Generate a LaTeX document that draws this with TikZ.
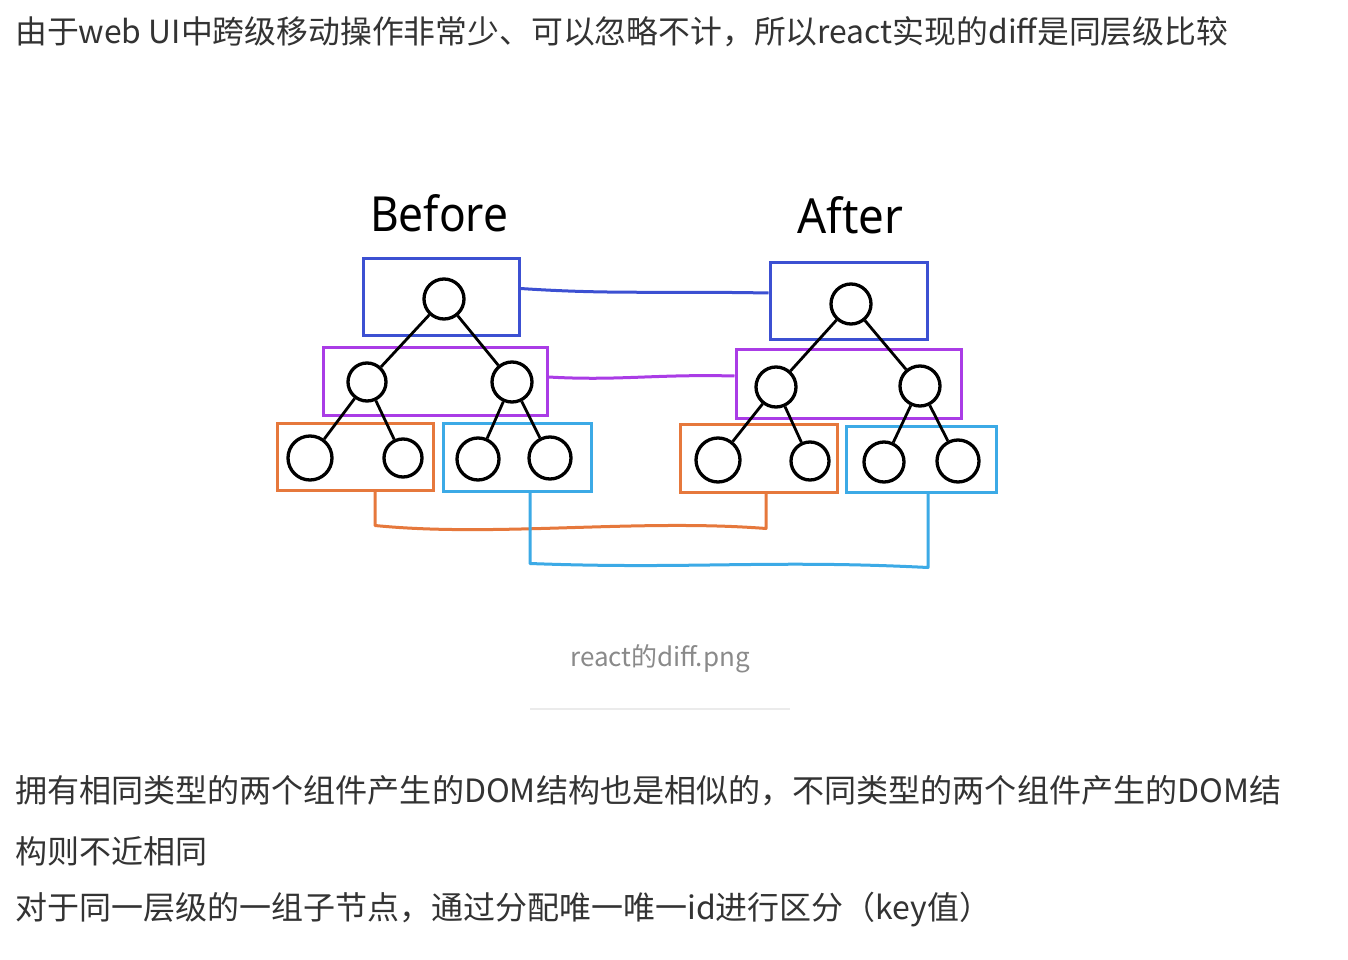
\documentclass[tikz,border=0pt]{standalone}
\usepackage{fontspec}
\setmainfont{Noto Sans CJK SC}
\newfontfamily\handfont{Noto Sans}
\usetikzlibrary{calc}
\definecolor{txt}{HTML}{333333}
\definecolor{capgray}{HTML}{8A8A8A}
\definecolor{sepgray}{HTML}{EBEBEB}
\definecolor{cblue}{HTML}{3C50D2}
\definecolor{cpurple}{HTML}{AA3CE6}
\definecolor{corange}{HTML}{E6783C}
\definecolor{ccyan}{HTML}{3CAAE6}
\tikzset{
  para/.style={anchor=west, inner sep=0pt, text=txt, font=\fontsize{32}{38}\selectfont},
  hand/.style={inner sep=0pt, text=black, font=\handfont\bfseries},
  grp/.style={draw=#1, line width=3pt, rectangle, inner sep=0pt},
  dom/.style={draw=black, line width=3.3pt, circle, inner sep=0pt, minimum size=#1},
  edge/.style={draw=black, line width=2.8pt},
  link/.style={draw=#1, line width=3pt, line join=round}
}
\begin{document}
\begin{tikzpicture}[x=1pt,y=-1pt]
\useasboundingbox (0,0) rectangle (1348,960);
\fill[white] (0,0) rectangle (1348,960);

\node[para] (t1) at (15,32) {\resizebox{1213pt}{!}{由于web UI中跨级移动操作非常少、可以忽略不计，所以react实现的diff是同层级比较}};

\node[hand, anchor=south west] (before) at (370,232) {\resizebox{138pt}{37pt}{Before}};
\node[hand, anchor=south west] (after) at (797,234) {\resizebox{106pt}{37pt}{After}};

% Before groups
\node[grp=cblue, minimum width=156pt, minimum height=77pt] (bB) at (441,296.5) {};
\node[grp=cpurple, minimum width=224pt, minimum height=68pt] (pB) at (435,381) {};
\node[grp=corange, minimum width=156pt, minimum height=67pt] (oB) at (355,456.5) {};
\node[grp=ccyan, minimum width=148pt, minimum height=68pt] (cB) at (517,457) {};
% After groups
\node[grp=cblue, minimum width=157pt, minimum height=77pt] (bA) at (848.5,300.5) {};
\node[grp=cpurple, minimum width=225pt, minimum height=69pt] (pA) at (848.5,383.5) {};
\node[grp=corange, minimum width=157pt, minimum height=68pt] (oA) at (758.5,458) {};
\node[grp=ccyan, minimum width=150pt, minimum height=66pt] (cA) at (921,459) {};

% Before tree
\node[dom=40pt] (r1) at (444,299) {};
\node[dom=38pt] (m1) at (367,382) {};
\node[dom=40pt] (m2) at (512,382) {};
\node[dom=44pt] (l1) at (310,458) {};
\node[dom=38pt] (l2) at (403,458) {};
\node[dom=42pt] (l3) at (478,459) {};
\node[dom=42pt] (l4) at (550,458) {};
\draw[edge] (r1) -- (m1);
\draw[edge] (r1) -- (m2);
\draw[edge] (m1) -- (l1);
\draw[edge] (m1) -- (l2);
\draw[edge] (m2) -- (l3);
\draw[edge] (m2) -- (l4);

% After tree
\node[dom=40pt] (r2) at (851,304) {};
\node[dom=40pt] (n1) at (776,387) {};
\node[dom=40pt] (n2) at (920,386) {};
\node[dom=44pt] (k1) at (718,460) {};
\node[dom=38pt] (k2) at (810,461) {};
\node[dom=40pt] (k3) at (884,462) {};
\node[dom=42pt] (k4) at (958,461) {};
\draw[edge] (r2) -- (n1);
\draw[edge] (r2) -- (n2);
\draw[edge] (n1) -- (k1);
\draw[edge] (n1) -- (k2);
\draw[edge] (n2) -- (k3);
\draw[edge] (n2) -- (k4);

% same-level links
\draw[link=cblue] ([yshift=8pt]bB.east) .. controls +(90,6) and +(-110,-2) .. ([yshift=7.5pt]bA.west);
\draw[link=cpurple] ([yshift=4pt]pB.east) .. controls +(70,4) and +(-80,-2) .. ([yshift=7.5pt]pA.west);
\draw[link=corange] ([xshift=20pt]oB.south) -- ++(0,34)
  .. controls +(120,12) and +(-130,-10) .. ($([xshift=7.5pt]oA.south)+(0,35)$)
  -- ([xshift=7.5pt]oA.south);
\draw[link=ccyan] ([xshift=13pt]cB.south) -- ++(0,71)
  .. controls +(160,6) and +(-160,-8) .. ($([xshift=7pt]cA.south)+(0,74)$)
  -- ([xshift=7pt]cA.south);

% caption
\node[inner sep=0pt, text=capgray, font=\fontsize{26}{30}\selectfont] (cap) at (660,659) {react的diff.png};
\coordinate (s1) at (530,709);
\coordinate (s2) at (790,709);
\draw[sepgray, line width=2pt] (s1) -- (s2);

\node[para] (t2) at (15,791) {\resizebox{1266pt}{!}{拥有相同类型的两个组件产生的DOM结构也是相似的，不同类型的两个组件产生的DOM结}};
\node[para] (t3) at (15,851) {构则不近相同};
\node[para] (t4) at (15,910) {对于同一层级的一组子节点，通过分配唯一唯一id进行区分（key值）};
\end{tikzpicture}
\end{document}
